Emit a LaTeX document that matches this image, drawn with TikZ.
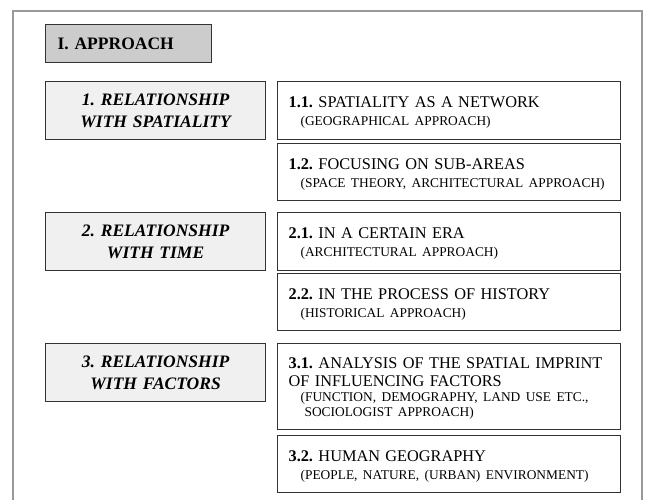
\documentclass[tikz,border=0pt]{standalone}
\usepackage{fontspec}
\setmainfont{Liberation Serif}
\frenchspacing
\newcommand{\mainf}{\fontsize{16.3}{18}\selectfont}
\newcommand{\subf}{\fontsize{13.4}{15}\selectfont}
\newcommand{\subtxt}[1]{{\subf\hspace*{12pt}#1}}

\begin{document}
\begin{tikzpicture}[x=1pt, y=-1pt,
	box/.style={draw=black!80, line width=1.2pt, rectangle, anchor=north west, inner ysep=0pt},
	topic/.style={box, fill=black!6, text width=200pt, inner xsep=10pt, align=center, minimum height=58pt, font=\fontsize{17.5}{22}\selectfont\bfseries\itshape},
	item/.style={box, text width=321pt, inner xsep=11pt, align=left, text height=26pt, text depth=#1, font=\mainf},
	item/.default=31pt]
	\useasboundingbox (0,0) rectangle (646,500);
	\draw[black!40, line width=2.5pt] (13,510) -- (13,11) -- (642,11) -- (642,510);
	\node[box, fill=black!20, text width=142pt, inner xsep=12pt, align=left, minimum height=38pt, font=\fontsize{17.5}{20}\selectfont\bfseries] (approach) at (45,24) {I. APPROACH};

	% relationship with spatiality
	\node[topic] (spatial) at (45,81) {1. RELATIONSHIP\\WITH SPATIALITY};
	\node[item=32pt] (net) at (277,81) {\textbf{1.1.} SPATIALITY AS A NETWORK\\[-0.5pt]\subtxt{(GEOGRAPHICAL APPROACH)}};
	\node[item] (subarea) at (277,143) {\textbf{1.2.} FOCUSING ON SUB-AREAS\\[-0.5pt]\subtxt{(SPACE THEORY, ARCHITECTURAL APPROACH)}};

	% relationship with time
	\node[topic] (time) at (45,212) {2. RELATIONSHIP\\WITH TIME};
	\node[item=32pt] (era) at (277,212) {\textbf{2.1.} IN A CERTAIN ERA\\[-0.5pt]\subtxt{(ARCHITECTURAL APPROACH)}};
	\node[item] (history) at (277,273) {\textbf{2.2.} IN THE PROCESS OF HISTORY\\[-0.5pt]\subtxt{(HISTORICAL APPROACH)}};

	% relationship with factors
	\node[topic] (factors) at (45,343) {3. RELATIONSHIP\\WITH FACTORS};
	\node[item=61pt, text height=25pt] (imprint) at (277,343) {\makebox[321pt][s]{\textbf{3.1.} ANALYSIS OF THE SPATIAL IMPRINT}\\
		OF INFLUENCING FACTORS\\[-3pt]
		\subtxt{(FUNCTION, DEMOGRAPHY, LAND USE ETC.,}\\[-3pt]
		\subtxt{\hspace*{4pt}SOCIOLOGIST APPROACH)}};
	\node[item=31pt] (human) at (277,435) {\textbf{3.2.} HUMAN GEOGRAPHY\\[-0.5pt]\subtxt{(PEOPLE, NATURE, (URBAN) ENVIRONMENT)}};
\end{tikzpicture}
\end{document}
